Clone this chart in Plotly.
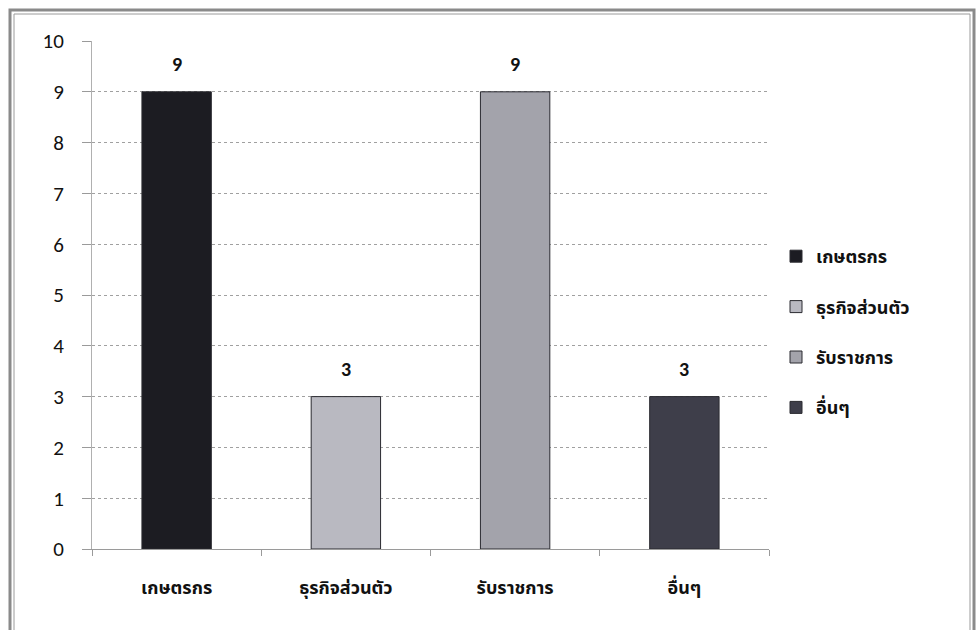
import plotly.graph_objects as go

categories = ["เกษตรกร", "ธุรกิจส่วนตัว", "รับราชการ", "อื่นๆ"]
values = [9, 3, 9, 3]
colors = ["#1c1c22", "#b9b9c1", "#a3a3ab", "#3e3e4a"]
y_ticks = list(range(0, 11))

FONT = "Tahoma, 'Noto Sans Thai', 'Noto Sans', 'DejaVu Sans', sans-serif"
NUMFONT = "Calibri, Carlito, 'Open Sans', sans-serif"

fig = go.Figure()
for i, (cat, val, col) in enumerate(zip(categories, values, colors)):
    fig.add_trace(go.Bar(
        x=[cat], y=[val], name=cat,
        marker=dict(color=col, line=dict(color="#2a2a30", width=1)),
        width=0.41,
        legendgroup=f"g{i}",
        hoverinfo="x+y",
    ))
    fig.add_annotation(
        x=cat, y=val, text=f"<b>{val}</b>", showarrow=False,
        yanchor="bottom", yshift=14,
        font=dict(size=20, color="#111111", family=NUMFONT),
    )

W, H = 978, 630
L, R, T, B = 92, 209, 41, 81
pw, ph = W - L - R, H - T - B

def px(x):
    return (x - L) / pw

def py(y):
    return (H - B - y) / ph

fig.update_layout(
    width=W, height=H,
    margin=dict(l=L, r=R, t=T, b=B),
    paper_bgcolor="white", plot_bgcolor="white",
    barmode="overlay",
    showlegend=True,
    font=dict(family=FONT, color="#111111"),
    legend=dict(
        x=px(776), y=py(238), xanchor="left", yanchor="top",
        font=dict(size=18, family=FONT, color="#111111", weight="bold"),
        traceorder="grouped", tracegroupgap=24,
        bgcolor="rgba(0,0,0,0)",
        itemwidth=30,
    ),
    xaxis=dict(
        showgrid=False,
        showline=True, linecolor="#9a9a9a", linewidth=1,
        ticks="outside", ticklen=6, tickcolor="#9a9a9a",
        tickson="boundaries",
        tickfont=dict(size=18, family=FONT, color="#111111", weight="bold"),
        ticklabelstandoff=22,
    ),
    yaxis=dict(
        range=[0, 10], tickvals=y_ticks,
        showgrid=True, gridcolor="#a0a0a0", griddash="dot", gridwidth=1,
        showline=True, linecolor="#b0b0b0", linewidth=1,
        ticks="outside", ticklen=9, tickcolor="#9a9a9a",
        tickfont=dict(size=21, family=NUMFONT, color="#111111"),
        ticklabelstandoff=14,
        zeroline=False,
    ),
    shapes=[
        dict(type="rect", xref="paper", yref="paper",
             x0=px(10), x1=px(974), y0=py(660), y1=py(10),
             line=dict(color="#8a8a8a", width=3), fillcolor="rgba(0,0,0,0)", layer="below"),
        dict(type="rect", xref="paper", yref="paper",
             x0=px(14), x1=px(970), y0=py(660), y1=py(14),
             line=dict(color="#9a9a9a", width=1), fillcolor="rgba(0,0,0,0)", layer="below"),
    ],
)

fig.write_html("out.html", post_script="document.body.style.margin='0';",
               config={"displayModeBar": False})
